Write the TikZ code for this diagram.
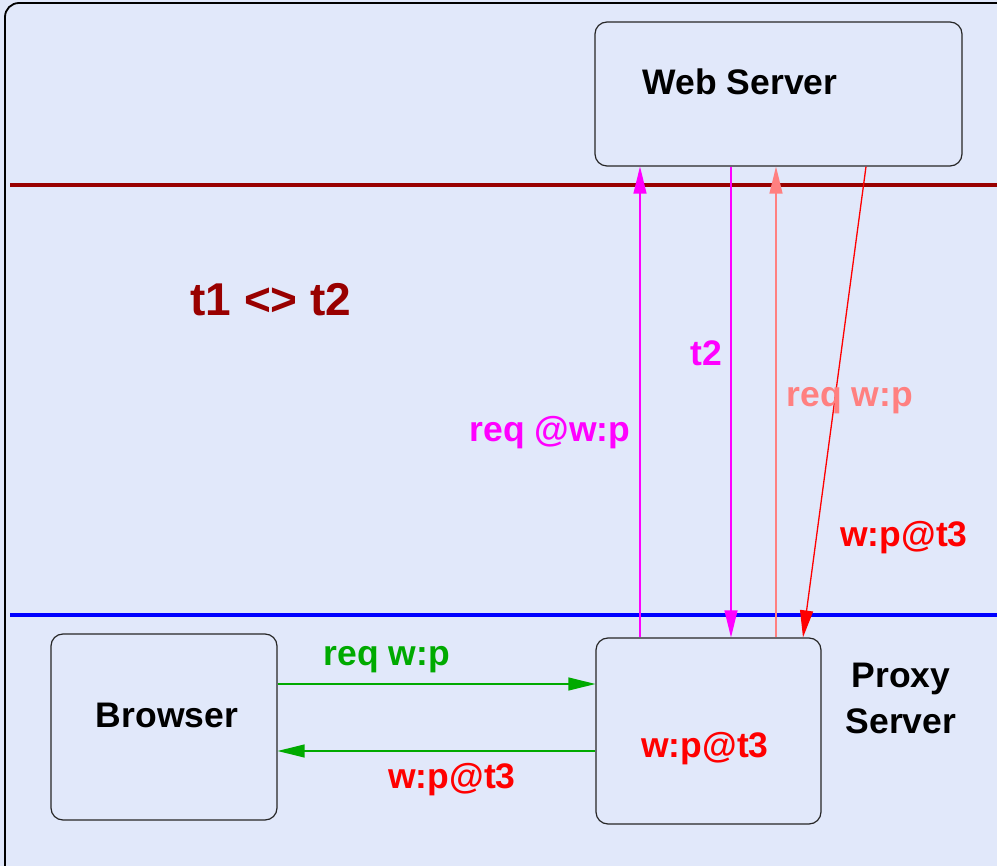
\documentclass[tikz,border=0pt]{standalone}
\usepackage{fontspec}
\setmainfont{Liberation Sans}
\usetikzlibrary{arrows.meta}
\definecolor{bgcol}{RGB}{225,232,250}
\definecolor{darkred}{RGB}{153,0,0}
\definecolor{salmon}{RGB}{255,128,128}
\definecolor{okgreen}{RGB}{0,170,0}
\definecolor{pmagenta}{RGB}{255,0,255}
\tikzstyle{box} = [rectangle, rounded corners=12pt, draw=black!85, line width=1.2pt, inner sep=0pt]
\tikzstyle{lbl} = [font=\fontsize{35.5}{46}\selectfont\bfseries, inner sep=0pt, anchor=base]
\tikzstyle{msg} = [line width=1.3pt, ->]
\tikzstyle{band} = [line width=4.5pt]

\begin{document}
\begin{tikzpicture}[x=1pt,y=-1pt,>={Triangle[length=27pt,width=13pt]}]

\useasboundingbox (0,0) rectangle (997,866);
\fill[bgcol] (0,0) rectangle (997,866);
\draw[fill=bgcol, line width=1.8pt, rounded corners=14pt] (5,3) rectangle (1020,885);

% the two network boundaries
\draw[band, darkred] (10,185) -- (1005,185);
\draw[band, blue] (10,615) -- (1005,615);

\node (web) [box, minimum width=367pt, minimum height=144pt] at (778.5,94) {};
\node (browser) [box, minimum width=226pt, minimum height=186pt] at (164,727) {};
\node (proxy) [box, minimum width=225pt, minimum height=186pt] at (708.5,731) {};

\node (webtxt) [lbl] at (740,95) {Web Server};
\node (browsertxt) [lbl] at (167,727) {Browser};
\node (cache) [lbl, red] at (705,757) {w:p@t3};
\node (proxytxt) [lbl, align=center] at (901,733) {Proxy\\Server};
\node (diff) [lbl, darkred, font=\fontsize{46}{50}\selectfont\bfseries] at (271,316) {t1 <> t2};

% columns of the vertical messages
\coordinate (c1) at (640,0);
\coordinate (c2) at (731,0);
\coordinate (c3) at (776,0);
\coordinate (c4) at (866,0);
\coordinate (c5) at (803,0);
% rows of the browser messages
\coordinate (r1) at (0,684);
\coordinate (r2) at (0,751);

\draw[msg, pmagenta] (c1 |- proxy.north) -- (c1 |- web.south);
\draw[msg, pmagenta] (c2 |- web.south) -- (c2 |- proxy.north);
\draw[msg, salmon] (c3 |- proxy.north) -- (c3 |- web.south);
\draw[msg, red] (c4 |- web.south) -- (c5 |- proxy.north);
\draw[msg, okgreen] (browser.east |- r1) -- (proxy.west |- r1);
\draw[msg, okgreen] (proxy.west |- r2) -- (browser.east |- r2);

\node (l1) [lbl, pmagenta] at (550,442) {req @w:p};
\node (l2) [lbl, pmagenta] at (706,366) {t2};
\node (l3) [lbl, salmon] at (850,407) {req w:p};
\node (l4) [lbl, red] at (904,547) {w:p@t3};
\node (l5) [lbl, okgreen] at (387,666) {req w:p};
\node (l6) [lbl, red] at (452,788) {w:p@t3};

\end{tikzpicture}
\end{document}
